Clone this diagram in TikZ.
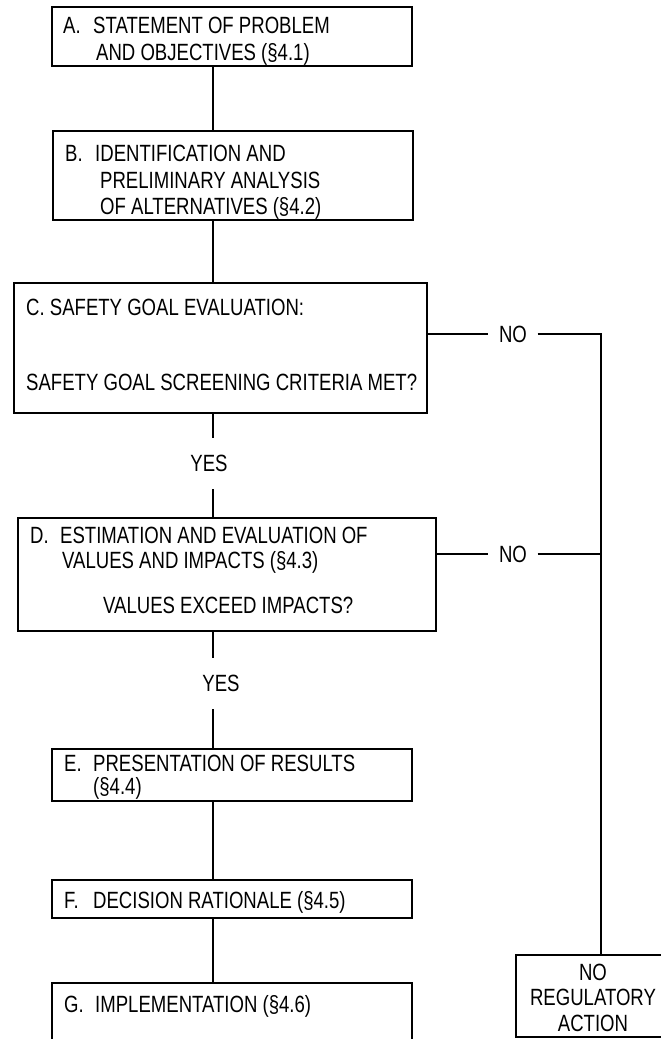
\documentclass[tikz,border=0pt]{standalone}
\usepackage{fontspec}
\newfontfamily\cond[FakeStretch=0.79]{Liberation Sans}
\tikzset{
  box/.style={draw=black, line width=1.6pt, rectangle, inner sep=0pt},
  conn/.style={draw=black, line width=1.3pt},
  txt/.style={anchor=base west, inner sep=0pt, font=\cond\fontsize{23.5}{27}\selectfont},
  ctxt/.style={anchor=base, inner sep=0pt, font=\cond\fontsize{23.5}{27}\selectfont},
  lbl/.style={inner sep=0pt, text depth=0pt, font=\cond\fontsize{23.5}{27}\selectfont}
}
\begin{document}
\begin{tikzpicture}[x=1pt,y=-1pt]
\useasboundingbox (0,0) rectangle (661,1039);
\coordinate (spine) at (213,0);
% boxes
\node[box, minimum width=360pt, minimum height=59pt] (A) at (232,36.5) {};
\node[box, minimum width=360pt, minimum height=89pt] (B) at (233,175.5) {};
\node[box, minimum width=413pt, minimum height=130pt] (C) at (220.5,348) {};
\node[box, minimum width=418pt, minimum height=113pt] (D) at (227,574.5) {};
\node[box, minimum width=360pt, minimum height=52pt] (E) at (232,775) {};
\node[box, minimum width=360pt, minimum height=38pt] (F) at (232,899) {};
\node[box, minimum width=360pt, minimum height=62pt] (G) at (232,1014) {};
\node[box, minimum width=170pt, minimum height=82pt] (NRA) at (601,996) {};
% texts
\node[txt] (A1a) at (63,33) {A.};
\node[txt] (A1b) at (93,33) {STATEMENT OF PROBLEM};
\node[txt] (A2) at (96,60) {AND OBJECTIVES (§4.1)};
\node[txt] (B1a) at (65,161) {B.};
\node[txt] (B1b) at (95,161) {IDENTIFICATION AND};
\node[txt] (B2) at (100,188) {PRELIMINARY ANALYSIS};
\node[txt] (B3) at (100,214) {OF ALTERNATIVES (§4.2)};
\node[txt] (C1) at (26,315) {C. SAFETY GOAL EVALUATION:};
\node[txt] (C2) at (26,390) {SAFETY GOAL SCREENING CRITERIA MET?};
\node[txt] (D1a) at (30,543) {D.};
\node[txt] (D1b) at (60,543) {ESTIMATION AND EVALUATION OF};
\node[txt] (D2) at (62,568) {VALUES AND IMPACTS (§4.3)};
\node[txt] (D3) at (103,613) {VALUES EXCEED IMPACTS?};
\node[txt] (E1a) at (64,771) {E.};
\node[txt] (E1b) at (93,771) {PRESENTATION OF RESULTS};
\node[txt] (E2) at (93,794) {(§4.4)};
\node[txt] (F1a) at (64,908) {F.};
\node[txt] (F1b) at (93,908) {DECISION RATIONALE (§4.5)};
\node[txt] (G1a) at (64,1012) {G.};
\node[txt] (G1b) at (95,1012) {IMPLEMENTATION (§4.6)};
\node[ctxt] (N1) at (593,980) {NO};
\node[ctxt] (N2) at (593,1005) {REGULATORY};
\node[ctxt] (N3) at (593,1031) {ACTION};
% labels on connectors
\node[lbl, minimum height=51pt] (yes1) at (209,463.5) {YES};
\node[lbl, minimum height=51pt] (yes2) at (221,683.5) {YES};
\node[lbl, minimum width=49pt] (no1) at (513,334) {NO};
\node[lbl, minimum width=49pt] (no2) at (513,554) {NO};
% connectors
\draw[conn] (A.south -| spine) -- (B.north -| spine);
\draw[conn] (B.south -| spine) -- (C.north -| spine);
\draw[conn] (C.south -| spine) -- (yes1.north -| spine);
\draw[conn] (yes1.south -| spine) -- (D.north -| spine);
\draw[conn] (D.south -| spine) -- (yes2.north -| spine);
\draw[conn] (yes2.south -| spine) -- (E.north -| spine);
\draw[conn] (E.south -| spine) -- (F.north -| spine);
\draw[conn] (F.south -| spine) -- (G.north -| spine);
\draw[conn] (C.east |- no1) -- (no1.west);
\draw[conn] (no1.east) -| (NRA.north);
\draw[conn] (D.east |- no2) -- (no2.west);
\draw[conn] (no2.east) -- (no2.east -| NRA.north);
\end{tikzpicture}
\end{document}
